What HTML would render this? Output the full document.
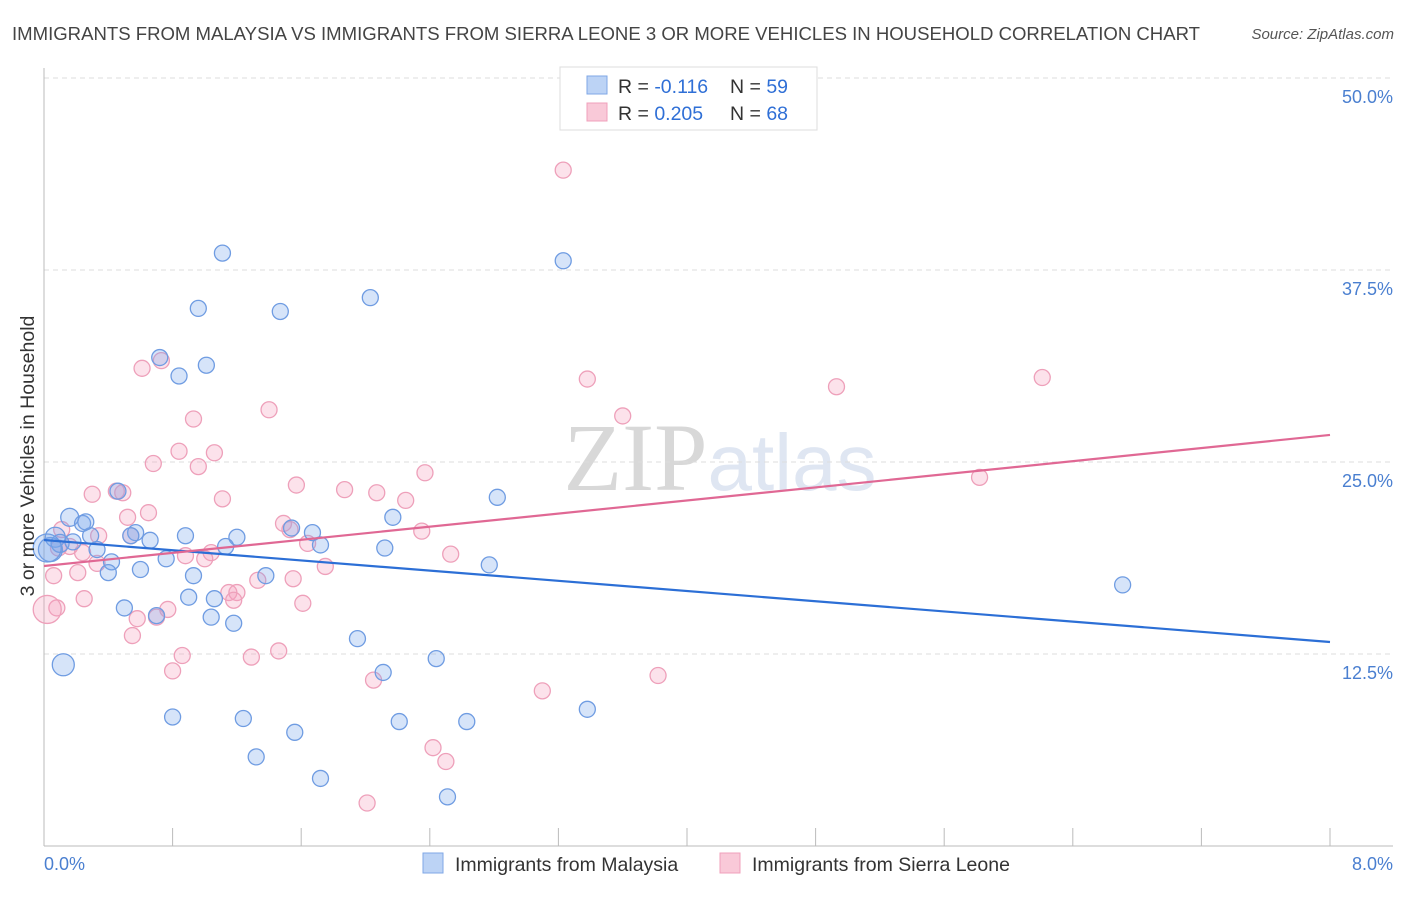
<!DOCTYPE html>
<html><head><meta charset="utf-8"><style>
body{margin:0;background:#fff;font-family:"Liberation Sans",sans-serif;}
svg text{font-family:"Liberation Sans",sans-serif;}
</style></head><body>
<svg id="chart" width="1406" height="892">
<text x="12" y="40" font-size="18.5" fill="#444" textLength="1188" lengthAdjust="spacingAndGlyphs">IMMIGRANTS FROM MALAYSIA VS IMMIGRANTS FROM SIERRA LEONE 3 OR MORE VEHICLES IN HOUSEHOLD CORRELATION CHART</text>
<text x="1394" y="39" font-size="15" fill="#555" font-style="italic" text-anchor="end">Source: ZipAtlas.com</text>
<text x="720" y="490" font-size="96" fill="#ddd" text-anchor="middle" font-family="Liberation Serif"><tspan font-family="Liberation Serif" fill="#d8d8d8">ZIP</tspan><tspan font-family="Liberation Sans" fill="#dfe6f2" font-size="80">atlas</tspan></text>
<g id="grid"></g><g id="axes"></g><g id="pts"></g><g id="lines"></g>
<text transform="translate(34,456) rotate(-90)" font-size="19.5" fill="#333" text-anchor="middle">3 or more Vehicles in Household</text>
<text x="44" y="870" font-size="18" fill="#4a7fd0">0.0%</text>
<text x="1393" y="870" font-size="18" fill="#4a7fd0" text-anchor="end">8.0%</text>
<g>
<rect x="560" y="67" width="257" height="63" fill="#fff" stroke="#ddd"/>
<rect x="587" y="76" width="20" height="18" fill="#bcd3f5" stroke="#7fa7e6"/>
<rect x="587" y="103" width="20" height="18" fill="#f9c9d8" stroke="#f0a0bb"/>
<text x="618" y="93" font-size="19.5" fill="#333">R = <tspan fill="#2f6fd6">-0.116</tspan></text>
<text x="730" y="93" font-size="19.5" fill="#333">N = <tspan fill="#2f6fd6">59</tspan></text>
<text x="618" y="120" font-size="19.5" fill="#333">R = <tspan fill="#2f6fd6">0.205</tspan></text>
<text x="730" y="120" font-size="19.5" fill="#333">N = <tspan fill="#2f6fd6">68</tspan></text>
</g>
<g>
<rect x="423" y="853" width="20" height="20" fill="#bcd3f5" stroke="#7fa7e6"/>
<text x="455" y="871" font-size="19.5" fill="#333">Immigrants from Malaysia</text>
<rect x="720" y="853" width="20" height="20" fill="#f9c9d8" stroke="#f0a0bb"/>
<text x="752" y="871" font-size="19.5" fill="#333">Immigrants from Sierra Leone</text>
</g>
</svg>
<script>
const yTicks=[12.5,25,37.5,50];
const blueX=[1.11,3.23,0.96,1.47,2.03,0.72,1.01,0.84,2.82,0.16,0.24,0.46,0.57,0.54,0.66,0.88,1.20,1.54,1.67,1.72,2.17,2.12,2.77,0.07,0.04,0.10,0.18,0.29,0.33,0.42,0.40,0.60,0.76,0.93,1.13,1.38,0.90,0.50,0.70,1.06,1.04,1.18,1.95,2.44,2.11,0.12,0.80,1.24,1.56,1.32,1.72,2.21,2.63,3.38,2.51,6.71,0.26,0.02];
const blueY=[38.6,38.1,35.0,34.8,35.7,31.8,31.3,30.6,22.7,21.4,21.0,23.1,20.4,20.2,19.9,20.2,20.1,20.7,20.4,19.6,21.4,19.4,18.3,20.1,19.3,19.7,19.8,20.2,19.3,18.5,17.8,18.0,18.7,17.6,19.5,17.6,16.2,15.5,15.0,16.1,14.9,14.5,13.5,12.2,11.3,11.8,8.4,8.3,7.4,5.8,4.4,8.1,8.1,8.9,3.2,17.0,21.1,19.4];
const blueR=[8,8,8,8,8,8,8,8,8,9,8,8,8,8,8,8,8,8,8,8,8,8,8,10,12,9,8,8,8,8,8,8,8,8,8,8,8,8,8,8,8,8,8,8,8,11,8,8,8,8,8,8,8,8,8,8,8,14];
const pinkX=[3.23,0.73,0.61,3.38,4.93,6.21,1.40,3.60,0.93,0.84,1.06,0.68,0.96,2.37,5.82,1.57,0.45,0.49,0.30,1.11,1.87,2.07,2.25,0.65,0.52,1.49,1.53,2.35,0.11,0.34,0.54,0.16,0.24,0.09,0.88,1.04,1.00,1.64,2.53,1.75,0.33,0.21,0.06,1.55,1.33,1.15,1.20,1.18,1.61,0.25,0.08,0.02,0.77,0.58,0.70,0.55,0.86,1.29,1.46,0.80,3.10,3.82,2.05,2.42,2.50,2.01];
const pinkY=[44.0,31.6,31.1,30.4,29.9,30.5,28.4,28.0,27.8,25.7,25.6,24.9,24.7,24.3,24.0,23.5,23.1,23.0,22.9,22.6,23.2,23.0,22.5,21.7,21.4,21.0,20.6,20.5,20.6,20.2,20.2,19.5,19.1,19.4,18.9,19.1,18.7,19.7,19.0,18.2,18.4,17.8,17.6,17.4,17.3,16.5,16.5,16.0,15.8,16.1,15.5,15.4,15.4,14.8,14.9,13.7,12.4,12.3,12.7,11.4,10.1,11.1,10.8,6.4,5.5,2.8];
const blueLine=[19.92,13.28];
const pinkLine=[18.23,26.76];
const X0=44,X1=1330,Y0=846,PPY=192/12.5;
const sx=v=>X0+(v/8)*(X1-X0), sy=v=>Y0-v*PPY;
const NS='http://www.w3.org/2000/svg';
function mk(tag,parent,attrs){const e=document.createElementNS(NS,tag);for(const k in attrs)e.setAttribute(k,attrs[k]);parent.appendChild(e);return e;}
const grid=document.getElementById('grid'),axes=document.getElementById('axes'),pts=document.getElementById('pts'),lines=document.getElementById('lines');
yTicks.forEach(t=>{
 const l=mk('line',grid,{x1:X0,x2:1393,y1:sy(t),y2:sy(t),stroke:'#ddd','stroke-dasharray':'5,4'});
 
 
 const tx=mk('text',grid,{x:1393,y:sy(t)+25,'font-size':18,fill:'#4a7fd0','text-anchor':'end'});
 tx.textContent=t.toFixed(1)+'%';
 
 
});
const ya=mk('line',axes,{x1:X0,x2:X0,y1:68,y2:Y0,stroke:'#bbb'});


const xa=mk('line',axes,{x1:X0,x2:1393,y1:Y0,y2:Y0,stroke:'#bbb'});


for(let i=0;i<=10;i++){const v=i*0.8;const t=mk('line',axes,{x1:sx(v),x2:sx(v),y1:Y0-18,y2:Y0,stroke:'#bbb'});
 
 }
pinkX.forEach((x,i)=>{const c=mk('circle',pts,{cx:sx(x),cy:sy(pinkY[i]),r:(i==51?14:8),fill:'rgba(244,160,188,0.3)',stroke:'#eea0ba','stroke-width':1.3});
 
 });
blueX.forEach((x,i)=>{const c=mk('circle',pts,{cx:sx(x),cy:sy(blueY[i]),r:blueR[i],fill:'rgba(120,165,235,0.3)',stroke:'#6f9ce2','stroke-width':1.3});
 
 });
const bl=mk('line',lines,{x1:sx(0),y1:sy(blueLine[0]),x2:sx(8),y2:sy(blueLine[1]),stroke:'#2c6fd6','stroke-width':2.2});


const pl=mk('line',lines,{x1:sx(0),y1:sy(pinkLine[0]),x2:sx(8),y2:sy(pinkLine[1]),stroke:'#e06894','stroke-width':2.2});


</script>
</body></html>
